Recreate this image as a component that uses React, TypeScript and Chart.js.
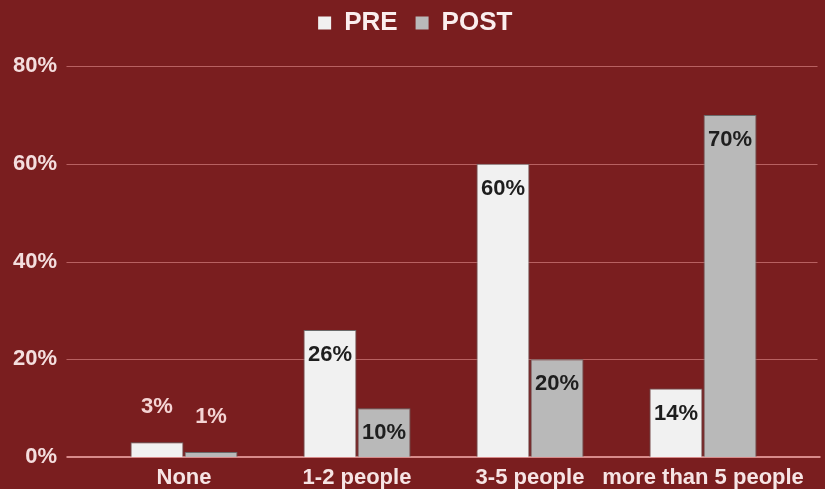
import React, { useEffect, useRef } from "react";
import { Chart, registerables } from "chart.js";

Chart.register(...registerables);

const categories = ["None", "1-2 people", "3-5 people", "more than 5 people"];
const preValues = [3, 26, 60, 14];
const postValues = [1, 10, 20, 70];
const seriesNames = ["PRE", "POST"];
const yTicks = [0, 20, 40, 60, 80];

const BG = "#7a1e1f";
const FONT = "'Liberation Sans', Arial, sans-serif";

const gridPlugin = {
  id: "extGrid",
  beforeDatasetsDraw(chart: any) {
    const { ctx, chartArea, scales } = chart;
    const y = scales.y;
    ctx.save();
    yTicks.forEach((v) => {
      const py = Math.round(y.getPixelForValue(v));
      ctx.beginPath();
      if (v === 0) {
        ctx.strokeStyle = "#d88a8a";
        ctx.lineWidth = 2;
        ctx.moveTo(chartArea.left - 31, py);
        ctx.lineTo(chartArea.right + 31, py);
      } else {
        ctx.strokeStyle = "rgba(205,120,120,0.75)";
        ctx.lineWidth = 1;
        ctx.moveTo(chartArea.left - 31, py + 0.5);
        ctx.lineTo(chartArea.right + 28, py + 0.5);
      }
      ctx.stroke();
    });
    ctx.restore();
  },
};

const labelPlugin = {
  id: "barLabels",
  afterDatasetsDraw(chart: any) {
    const { ctx } = chart;
    ctx.save();
    ctx.font = `bold 22px ${FONT}`;
    ctx.textAlign = "center";
    ctx.textBaseline = "middle";
    chart.data.datasets.forEach((ds: any, di: number) => {
      const meta = chart.getDatasetMeta(di);
      meta.data.forEach((bar: any, i: number) => {
        const v = ds.data[i];
        const txt = `${v}%`;
        if (v >= 5) {
          ctx.fillStyle = "#1e1e1e";
          ctx.fillText(txt, bar.x, bar.y + 25);
        } else {
          ctx.fillStyle = "#f4d4d4";
          ctx.fillText(txt, bar.x, bar.y - 35);
        }
      });
    });
    ctx.restore();
  },
};

const legendLayoutPlugin = {
  id: "legendLayout",
  afterInit(chart: any) {
    const lg = chart.legend;
    if (!lg) return;
    const orig = lg.fit.bind(lg);
    lg.fit = () => {
      orig();
      lg.height += 12;
    };
  },
  afterLayout(chart: any) {
    const lg = chart.legend;
    if (!lg) return;
    lg.left += 41;
    lg.width = lg.right - lg.left;
    lg.top -= 8;
  },
};

export default function App() {
  const ref = useRef<HTMLCanvasElement>(null);
  useEffect(() => {
    if (!ref.current) return;
    const chart = new Chart(ref.current, {
      type: "bar",
      data: {
        labels: categories,
        datasets: [
          {
            label: seriesNames[0],
            data: preValues,
            backgroundColor: "#f1f1f1",
            borderColor: "#6a6a6a",
            borderWidth: 1,
          },
          {
            label: seriesNames[1],
            data: postValues,
            backgroundColor: "#b9b9b9",
            borderColor: "#6a6a6a",
            borderWidth: 1,
          },
        ],
      },
      options: {
        responsive: false,
        animation: false,
        layout: { padding: { left: 0, right: 35.5, top: 0, bottom: 0 } },
        datasets: {
          bar: { categoryPercentage: 0.625, barPercentage: 0.98 },
        },
        plugins: {
          legend: {
            position: "top",
            labels: {
              color: "#fbeeee",
              font: { family: FONT, size: 26, weight: "bold" },
              boxWidth: 13,
              boxHeight: 13,
              padding: 18,
              generateLabels: (chart: any) =>
                chart.data.datasets.map((ds: any, i: number) => ({
                  text: ds.label,
                  fillStyle: ds.backgroundColor,
                  strokeStyle: ds.backgroundColor,
                  lineWidth: 0,
                  fontColor: "#fbeeee",
                  datasetIndex: i,
                  hidden: false,
                })),
            },
          },
          tooltip: { enabled: false },
        },
        scales: {
          x: {
            grid: { display: false, drawTicks: false },
            border: { display: false },
            ticks: {
              color: "#f6e4e4",
              font: { family: FONT, size: 22, weight: "bold" },
              padding: 8,
              maxRotation: 0,
              autoSkip: false,
            },
            afterFit: (s: any) => {
              s.height = 32;
            },
          },
          y: {
            min: 0,
            max: 80,
            grid: { display: false, drawTicks: false },
            border: { display: false },
            ticks: {
              stepSize: 20,
              color: "#f4dede",
              font: { family: FONT, size: 22, weight: "bold" },
              padding: 40.5,
              callback: (v: any) => `${v}%`,
            },
            afterFit: (s: any) => {
              s.width = 97.5;
              s.paddingTop = 0;
              s.paddingBottom = 0;
            },
          },
        },
      },
      plugins: [gridPlugin, labelPlugin, legendLayoutPlugin],
    });
    return () => chart.destroy();
  }, []);
  return (
    <div
      style={{
        position: "absolute",
        left: 0,
        top: 0,
        width: 825,
        height: 489,
        background: BG,
        overflow: "hidden",
      }}
    >
      <canvas ref={ref} width={825} height={489} />
    </div>
  );
}
